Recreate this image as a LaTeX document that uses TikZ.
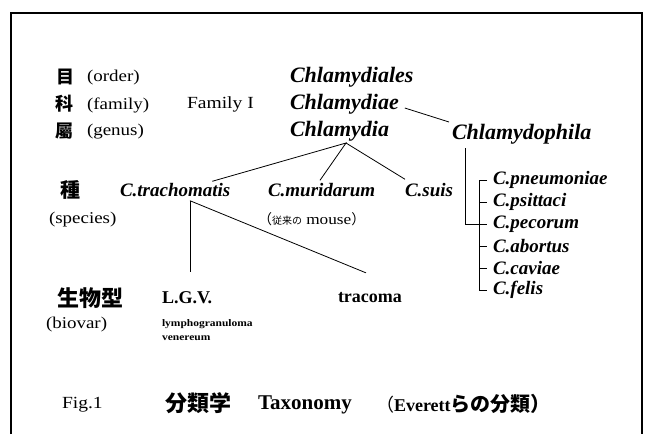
\documentclass[tikz,border=0pt]{standalone}
\usepackage{fontspec}
\setmainfont{Liberation Serif}
\newfontfamily\wide{Liberation Serif}[FakeStretch=1.15]
\newfontfamily\cjk{Noto Sans CJK JP}
\usetikzlibrary{calc}
\begin{document}
\begin{tikzpicture}[x=1pt,y=-1pt,
  every node/.style={inner sep=0pt, outer sep=0pt, anchor=west},
  gname/.style={font=\fontsize{22}{24}\selectfont\bfseries\itshape},
  sname/.style={font=\fontsize{19}{21}\selectfont\bfseries\itshape},
  rank/.style={font=\fontsize{16.5}{18}\selectfont\wide},
  kan/.style={font=\fontsize{#1}{#1}\selectfont\cjk\bfseries},
  bio/.style={font=\fontsize{18}{20}\selectfont\bfseries},
  tiny/.style={font=\fontsize{10}{11}\selectfont\wide\bfseries},
  link/.style={line width=0.8pt},
  frame/.style={line width=1.3pt}]
\useasboundingbox (0,0) rectangle (650,434);
% frame (open at the bottom)
\draw[frame] (11,434) -- (11,13) -- (642,13) -- (642,434);

% rank labels
\node[kan=18] (k1) at (56,77) {目};
\node[rank] (r1) at (87,78) {(order)};
\node[kan=18] (k2) at (55,104) {科};
\node[rank] (r2) at (87,105) {(family)};
\node[kan=18] (k3) at (55,131) {屬};
\node[rank] (r3) at (87,132) {(genus)};
\node[rank,font=\fontsize{17}{19}\selectfont\wide] (fam) at (187,104) {Family I};

% higher taxa
\node[gname] (ord) at (290,77) {Chlamydiales};
\node[gname] (cdiae) at (290,104) {Chlamydiae};
\node[gname] (cdia) at (290,131) {Chlamydia};
\node[gname] (cphila) at (452,134) {Chlamydophila};
\draw[link] ($(cdiae.east)+(6,4)$) -- ($(cphila.north west)+(-3,-2)$);

% species
\node[kan=20] (k4) at (60,190) {種};
\node[rank] (r4) at (49,220) {(species)};
\node[sname] (ctr) at (120,190) {C.trachomatis};
\node[sname] (cmu) at (268,190) {C.muridarum};
\node[sname] (csu) at (405,190) {C.suis};
\node (mouse) at (258,219) {{\cjk\fontsize{14}{14}\selectfont （}{\cjk\fontsize{10}{10}\selectfont 従来の}{\wide\fontsize{15}{16}\selectfont\ mouse}{\cjk\fontsize{14}{14}\selectfont ）}};
\coordinate (apex) at ($(cdia.south west)+(56,2)$);
\draw[link] ($(ctr.north east)+(-18,-2)$) -- (apex) -- ($(cmu.north west)+(52,-3)$);
\draw[link] (apex) -- ($(csu.north west)+(0,-4)$);

% Chlamydophila species
\node[sname] (pne) at (493,180) {C.pneumoniae};
\node[sname] (psi) at (493,202) {C.psittaci};
\node[sname] (pec) at (493,224) {C.pecorum};
\node[sname] (abo) at (493,246) {C.abortus};
\node[sname] (cav) at (493,268) {C.caviae};
\node[sname] (fel) at (493,290) {C.felis};
\draw[link] ($(cphila.south west)+(13,4)$) |- ($(pec.west)+(-14,0)$);
\draw[link] ($(pne.west)+(-6,0)$) -- ($(pne.west)+(-14,0)$) -- ($(fel.west)+(-14,0)$) -- ($(fel.west)+(-6,0)$);
\foreach \n in {psi,pec,abo,cav}
  \draw[link] ($(\n.west)+(-14,0)$) -- ($(\n.west)+(-6,0)$);

% biovars
\node[kan=22] (k5) at (57,298) {生物型};
\node[rank] (r5) at (46,325) {(biovar)};
\node[bio] (lgv) at (162,298) {L.G.V.};
\node[bio] (trac) at (338,298) {tracoma};
\node[tiny] (lym) at (162,324) {lymphogranuloma};
\node[tiny] (ven) at (162,338) {venereum};
\coordinate (tb) at ($(ctr.south west)+(70,4)$);
\draw[link] (tb) -- ($(lgv.north west)+(28,-20)$);
\draw[link] (tb) -- ($(trac.north)+(-4,-20)$);

% caption
\node[rank,font=\fontsize{17}{19}\selectfont\wide] (fig) at (62,405) {Fig.1};
\node[kan=22] (bun) at (165,403) {分類学};
\node[bio,font=\fontsize{21}{23}\selectfont\bfseries] (tax) at (258,405) {Taxonomy};
\node (ev) at (376,404) {{\cjk\fontsize{18}{18}\selectfont （}{\fontsize{18}{20}\selectfont\bfseries Everett}{\cjk\bfseries\fontsize{20}{20}\selectfont らの分類）}};
\end{tikzpicture}
\end{document}
